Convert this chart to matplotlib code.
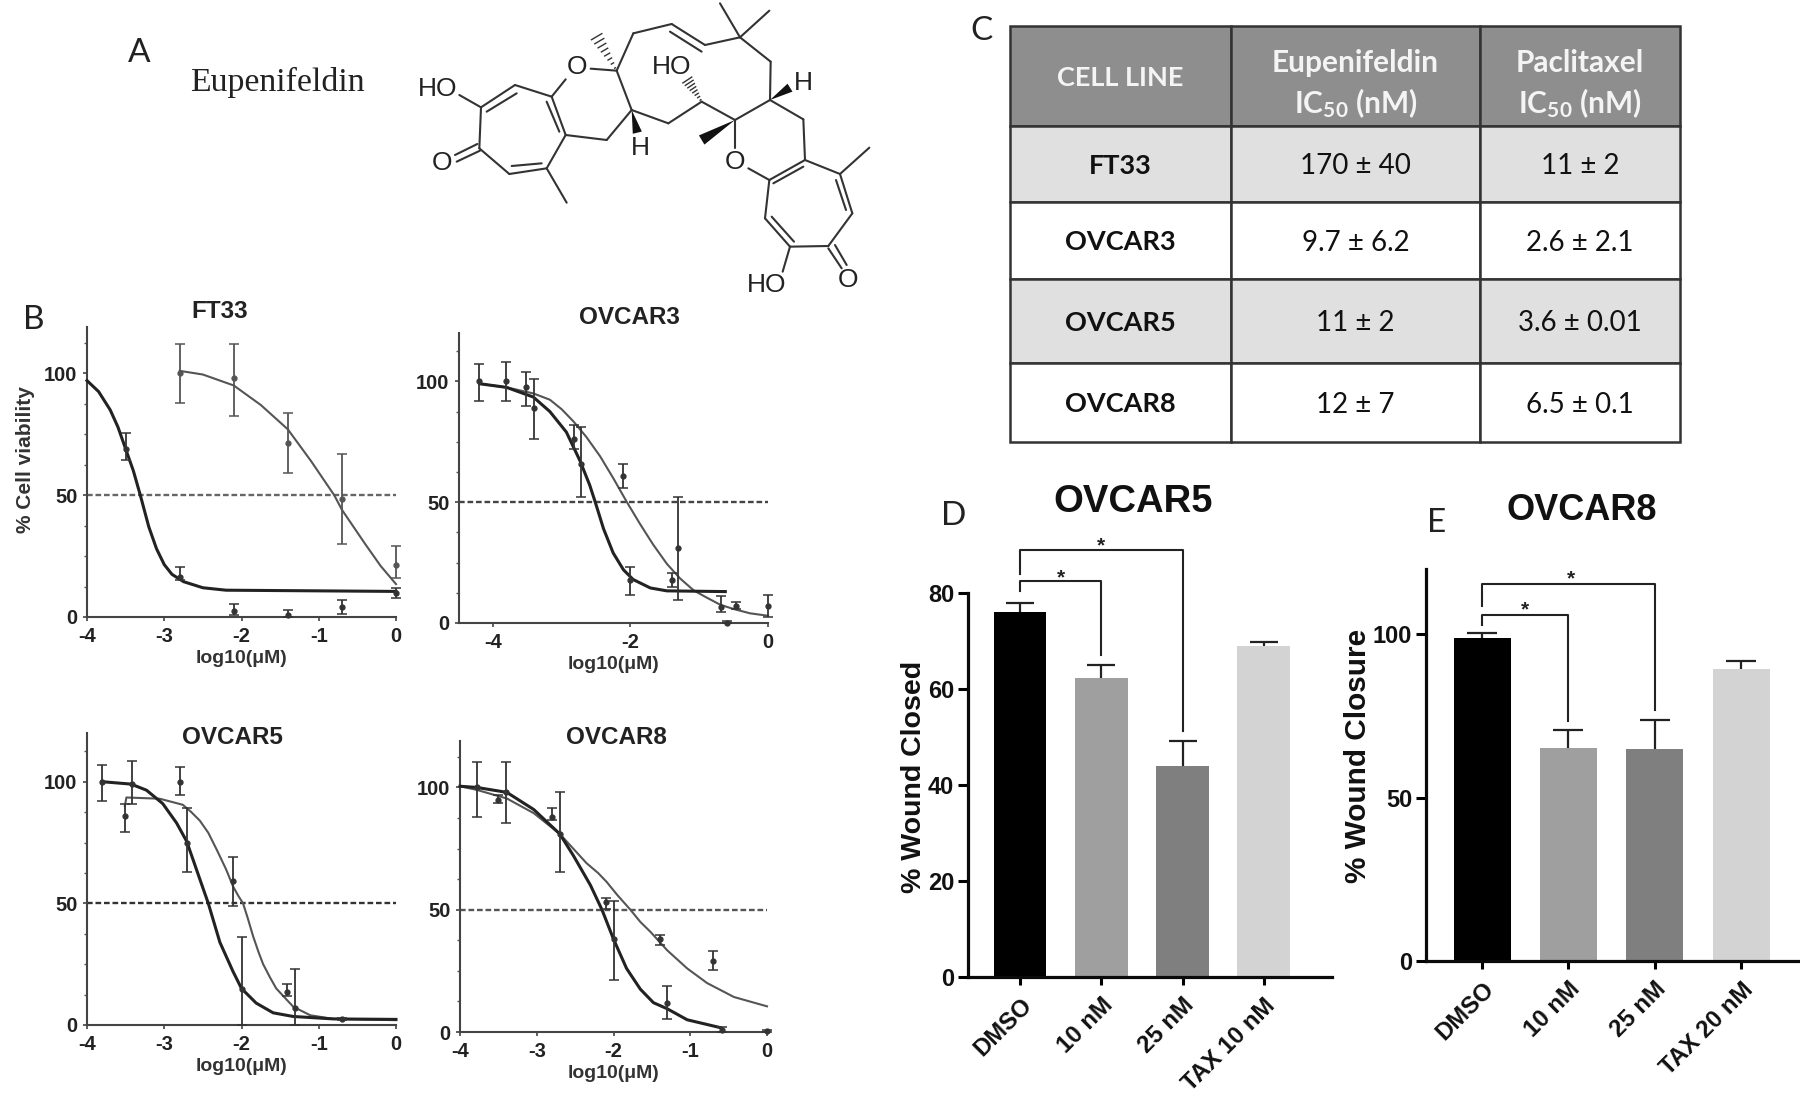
import numpy as np
import matplotlib
matplotlib.use("Agg")
import matplotlib.pyplot as plt
from matplotlib.patches import Polygon

W, H = 1800, 1096
plt.rcParams['font.family'] = ['Liberation Sans', 'DejaVu Sans']
plt.rcParams['mathtext.default'] = 'regular'

# ---------- panel B data ----------
ft33_dark_x = [-4, -3.85, -3.7, -3.6, -3.5, -3.4, -3.31, -3.2, -3.1, -3, -2.9, -2.75, -2.5, -2.2, 0]
ft33_dark_y = [97, 92.5, 85, 78, 69, 60, 50, 37, 28, 21.5, 17.5, 14.5, 12, 11, 10.5]
ft33_light_x = [-2.8, -2.5, -2.1, -1.75, -1.4, -1.1, -0.8, -0.7, -0.4, -0.2, 0]
ft33_light_y = [101, 99.5, 95, 87, 77, 64, 50, 44, 30, 21, 13.5]
ft33_dark_px = [-3.5, -2.79, -2.1, -1.4, -0.7, 0]
ft33_dark_py = [69, 16.5, 2.5, 0.8, 4, 10]
ft33_dark_lo = [64.6, 15, 0.7, 0, 1.4, 8]
ft33_dark_hi = [75.6, 20.6, 5.5, 3, 7, 12]
ft33_light_px = [-2.79, -2.1, -1.4, -0.7, 0]
ft33_light_py = [100, 98, 71.5, 48.5, 21.5]
ft33_light_lo = [88, 82.5, 59, 30, 16]
ft33_light_hi = [112, 112, 83.6, 66.7, 29]

ov3_dark_x = [-4.19, -3.8, -3.41, -3.17, -2.93, -2.73, -2.59, -2.51, -2.39, -2.25, -2.1, -1.96, -1.71, -1.47, -0.62]
ov3_dark_y = [99, 97.5, 93.5, 87.5, 79, 67, 57, 50, 39, 29, 22, 18, 14.5, 13.3, 13]
ov3_light_x = [-4.19, -3.8, -3.41, -3.17, -3.0, -2.83, -2.64, -2.44, -2.25, -2.05, -1.86, -1.67, -1.47, -1.28, -1.08, -0.89, -0.69, -0.5, -0.26, 0]
ov3_light_y = [99, 97.5, 95, 92.4, 88.5, 83.5, 77, 69, 60, 50, 41, 32.5, 24.5, 18.5, 13.5, 10.5, 7.5, 5.8, 4, 3]
ov3_px = [-4.2, -3.81, -3.51, -3.4, -2.82, -2.71, -2.1, -2, -1.4, -1.31, -0.69, -0.6, -0.46, 0]
ov3_py = [100, 100, 97.5, 89, 76, 66, 61, 18, 18, 31, 6.5, 0, 7, 7]
ov3_lo = [92, 92, 90, 76, 72, 52, 56, 11.5, 15, 9.5, 4.5, 0, 6, 2.5]
ov3_hi = [107, 108, 104, 101, 82, 81, 66, 23, 20.5, 52, 11, 1, 8.7, 11.5]

ov5_dark_x = [-3.81, -3.43, -3.23, -3.02, -2.84, -2.71, -2.54, -2.43, -2.28, -2.11, -2, -1.81, -1.59, -1.33, -0.81, 0]
ov5_dark_y = [100, 99, 96.5, 91, 83, 75.5, 60, 50, 34, 22, 15, 9, 5, 3.5, 2.5, 2.3]
ov5_light_x = [-3.51, -3.49, -3.06, -2.76, -2.65, -2.54, -2.43, -2.32, -2.2, -2.11, -2.04, -1.98, -1.92, -1.85, -1.78, -1.72, -1.63, -1.55, -1.33, -1.11, -0.81, 0]
ov5_light_y = [90, 93.5, 93, 90.5, 87.5, 84, 79, 72, 64, 57, 53, 50, 44, 36.5, 30, 25, 19.5, 15, 7.5, 4, 2.5, 2]
ov5_px = [-3.81, -3.42, -2.71, -2, -1.31, -3.51, -2.8, -2.11, -1.41, -0.7]
ov5_py = [100, 99, 75, 15, 7, 86, 100, 59, 13.5, 2.5]
ov5_lo = [92, 91, 63, 0, 0, 79.5, 94.5, 49, 12, 2]
ov5_hi = [107, 108.5, 89, 36, 23, 91, 106, 69, 17, 3]

ov8_dark_x = [-4, -3.78, -3.39, -3.04, -2.7, -2.52, -2.3, -2.15, -2, -1.83, -1.65, -1.48, -1.3, -1.04, -0.61]
ov8_dark_y = [100.5, 100, 98, 91, 81, 72, 60, 50, 38, 26, 17.5, 12, 9.5, 5, 1.8]
ov8_light_x = [-4, -3.78, -3.39, -3.04, -2.7, -2.35, -2.2, -2.09, -1.95, -1.78, -1.65, -1.52, -1.3, -1.04, -0.78, -0.43, 0]
ov8_light_y = [100.5, 99, 95.5, 89.5, 81, 69, 65, 61.4, 56, 50, 45, 41, 33.4, 26, 20, 14.3, 10.5]
ov8_px = [-3.78, -3.4, -2.7, -2, -1.3, -0.59, -3.5, -2.8, -2.1, -1.39, -0.7, 0]
ov8_py = [100, 98, 81, 38, 12, 1, 95, 88, 53, 38, 29, 0.5]
ov8_lo = [88, 85.5, 65.5, 21.4, 5.5, 0, 93.5, 86.6, 50.5, 35.7, 25.5, 0]
ov8_hi = [110.5, 110.5, 98, 53.5, 18.7, 2, 97, 91.5, 55, 39.6, 33, 1]

# ---------- panel C data ----------
table_head = ['CELL LINE', 'Eupenifeldin\nIC$_{50}$ (nM)', 'Paclitaxel\nIC$_{50}$ (nM)']
cell_lines = ['FT33', 'OVCAR3', 'OVCAR5', 'OVCAR8']
eupen_ic50 = ['170 ± 40', '9.7 ± 6.2', '11 ± 2', '12 ± 7']
pacli_ic50 = ['11 ± 2', '2.6 ± 2.1', '3.6 ± 0.01', '6.5 ± 0.1']

# ---------- panels D / E data ----------
bar_colors = ['#000000', '#9f9f9f', '#7f7f7f', '#d3d3d3']
d_labels = ['DMSO', '10 nM', '25 nM', 'TAX 10 nM']
d_values = [76, 62.3, 44, 69]
d_tops = [78, 65, 49.2, 69.8]
e_labels = ['DMSO', '10 nM', '25 nM', 'TAX 20 nM']
e_values = [99, 65.2, 65, 89.5]
e_tops = [100.3, 70.8, 73.7, 91.8]


def px_axes(l, r, t, b):
    return fig.add_axes([l / W, 1 - b / H, (r - l) / W, (b - t) / H])


fig = plt.figure(figsize=(W / 100, H / 100), dpi=100, facecolor='white')

# ---------- full-figure overlay in pixel coordinates ----------
ov = fig.add_axes([0, 0, 1, 1], zorder=0)
ov.set_xlim(0, W)
ov.set_ylim(H, 0)
ov.axis('off')

for s, x, y in [('A', 139, 53), ('B', 34, 320), ('C', 982, 31), ('D', 954, 516), ('E', 1437, 523)]:
    ov.text(x, y, s, family='Lato', fontsize=24, ha='center', va='center', color='#222222')
ov.text(190, 82, 'Eupenifeldin', family='Liberation Serif', fontsize=24.4, ha='left', va='center', color='#222222')

# ---------- molecule, zoomed-crop coordinates ----------
def mx(p):
    return (p[0] / 3 + 400, p[1] / 3)

bonds = [
    ((243, 322), (345, 255)), ((345, 255), (455, 290)), ((455, 290), (497, 405)), ((497, 405), (440, 505)),
    ((440, 505), (328, 522)), ((328, 522), (238, 445)), ((238, 445), (243, 322)),
    ((455, 290), (497, 238)), ((572, 206), (650, 212)), ((650, 212), (695, 330)), ((695, 330), (620, 420)),
    ((620, 420), (497, 405)), ((650, 212), (700, 100)), ((700, 100), (815, 72)), ((815, 72), (915, 135)),
    ((915, 135), (1020, 112)), ((1020, 112), (960, 10)), ((1020, 112), (1108, 32)), ((1020, 112), (1112, 185)),
    ((1112, 185), (1110, 300)), ((1110, 300), (1005, 360)), ((1110, 300), (1210, 358)), ((1210, 358), (1215, 480)),
    ((1215, 480), (1320, 522)), ((1320, 522), (1408, 443)), ((1320, 522), (1357, 640)), ((1357, 640), (1285, 738)),
    ((1285, 738), (1170, 740)), ((1170, 740), (1095, 655)), ((1095, 655), (1108, 540)), ((1108, 540), (1215, 480)),
    ((1108, 540), (1045, 505)), ((1005, 445), (1005, 360)), ((1170, 740), (1148, 815)), ((1005, 360), (905, 305)),
    ((905, 305), (805, 370)), ((805, 370), (695, 330)), ((243, 322), (178, 285)), ((440, 505), (500, 608)),
    # inner lines of double bonds
    ((260, 335), (350, 280)), ((440, 305), (478, 395)), ((335, 498), (425, 490)), ((810, 95), (905, 155)),
    ((1308, 540), (1338, 630)), ((1115, 650), (1182, 725)), ((1120, 550), (1210, 500)),
    ((165, 465), (232, 432)), ((170, 485), (240, 452)), ((1285, 745), (1325, 805)), ((1305, 735), (1340, 795)),
]
for a, b in bonds:
    pa, pb = mx(a), mx(b)
    ov.plot([pa[0], pb[0]], [pa[1], pb[1]], color='#333333', lw=1.5, solid_capstyle='round')

for a, b, hw in [((695, 330), (712, 398), 14), ((1110, 300), (1170, 263), 14), ((1005, 360), (905, 420), 16)]:
    pa, pb = np.array(mx(a)), np.array(mx(b))
    d = pb - pa
    n = np.array([-d[1], d[0]]) / np.hypot(*d) * hw / 3
    ov.add_patch(Polygon([pa, pb + n, pb - n], closed=True, color='#111111', lw=0))

for a, b, hw in [((650, 212), (590, 110), 18), ((905, 305), (862, 240), 16)]:
    pa, pb = np.array(mx(a)), np.array(mx(b))
    d = pb - pa
    n = np.array([-d[1], d[0]]) / np.hypot(*d)
    for f in np.linspace(0.08, 1, 8):
        c = pa + d * f
        e = n * hw / 3 * f
        ov.plot([c[0] - e[0], c[0] + e[0]], [c[1] - e[1], c[1] + e[1]], color='#333333', lw=1.0)

for s, a in [('HO', (112, 268)), ('O', (530, 200)), ('O', (125, 488)), ('H', (722, 445)), ('HO', (815, 200)),
             ('H', (1210, 248)), ('O', (1005, 485)), ('HO', (1100, 855)), ('O', (1345, 840))]:
    p = mx(a)
    ov.text(p[0], p[1], s, fontsize=19, ha='center', va='center', color='#222222')

# ---------- panel C table ----------
tax = px_axes(1010, 1680, 26, 442)
tax.axis('off')
rows = [table_head] + [[c, e, p] for c, e, p in zip(cell_lines, eupen_ic50, pacli_ic50)]
tbl = tax.table(cellText=rows, cellLoc='center', bbox=[0, 0, 1, 1], colWidths=[221 / 670, 249 / 670, 200 / 670])
tbl.auto_set_font_size(False)
row_h = [100 / 416, 76 / 416, 77 / 416, 84 / 416, 79 / 416]
fills = ['#8e8e8e', '#e0e0e0', '#ffffff', '#e0e0e0', '#ffffff']
for (r, c), cell in tbl.get_celld().items():
    cell.set_height(row_h[r])
    cell.set_facecolor(fills[r])
    cell.set_edgecolor('#333333')
    cell.set_linewidth(1.8)
    t = cell.get_text()
    t.set_family('Lato')
    t.set_verticalalignment('center_baseline')
    if r == 0:
        t.set_fontsize(19.5 if c == 0 else 21.5)
        t.set_color('#f4f4f4')
        t.set_fontweight('bold')
        t.set_linespacing(1.35)
    elif c == 0:
        t.set_fontsize(19.5)
        t.set_color('#111111')
        t.set_fontweight('bold')
    else:
        t.set_fontsize(20)
        t.set_color('#111111')


# ---------- panel B ----------
def dose_panel(box, xlim, ymax, xticks, title, tpos, series, points, dash_col):
    ax = px_axes(*box)
    ax.set_xlim(*xlim)
    ax.set_ylim(0, ymax)
    ax.patch.set_alpha(0)
    for s in ['top', 'right']:
        ax.spines[s].set_visible(False)
    for s in ['left', 'bottom']:
        ax.spines[s].set_color('#444444')
        ax.spines[s].set_linewidth(1.5)
    ax.set_xticks(xticks)
    ax.set_yticks([0, 50, 100])
    ax.set_yticks([12.5, 25, 37.5, 62.5, 75, 87.5, 112.5], minor=True)
    ax.tick_params(axis='both', which='major', length=3, width=1.2, color='#444444', pad=4, labelsize=14.5, labelcolor='#222222')
    ax.tick_params(axis='y', which='minor', length=2, width=1, color='#555555')
    for lb in ax.get_xticklabels() + ax.get_yticklabels():
        lb.set_fontweight('bold')
    ax.set_xticklabels([('-%d' % abs(v)) if v else '0' for v in xticks])
    ax.set_xlabel('log10(μM)', fontsize=14, fontweight='bold', color='#333333', labelpad=3)
    ax.axhline(50, color=dash_col, lw=1.7, ls=(0, (2.4, 1.2)), zorder=1)
    for x, y, col, lw in series:
        ax.plot(x, y, color=col, lw=lw, clip_on=False, zorder=3)
    for px, py, lo, hi, col in points:
        px, py, lo, hi = map(np.asarray, (px, py, lo, hi))
        ax.errorbar(px, py, yerr=[py - lo, hi - py], fmt='o', ms=3.5, color=col, ecolor=col,
                    elinewidth=1.3, capsize=3.5, capthick=1.1, clip_on=False, zorder=4)
    ov.text(tpos[0], tpos[1], title, fontsize=17.5, fontweight='bold', ha='center', va='center', color='#222222')
    return ax


dose_panel((87, 396, 327, 617), (-4, 0), 119, [-4, -3, -2, -1, 0], 'FT33', (220, 312),
           [(ft33_light_x, ft33_light_y, '#555555', 1.5), (ft33_dark_x, ft33_dark_y, '#222222', 2.2)],
           [(ft33_light_px, ft33_light_py, ft33_light_lo, ft33_light_hi, '#555555'),
            (ft33_dark_px, ft33_dark_py, ft33_dark_lo, ft33_dark_hi, '#333333')], '#666666')
dose_panel((459, 768, 333, 623), (-4.49, 0), 120, [-4, -2, 0], 'OVCAR3', (629, 318),
           [(ov3_light_x, ov3_light_y, '#555555', 1.5), (ov3_dark_x, ov3_dark_y, '#222222', 2.2)],
           [(ov3_px, ov3_py, ov3_lo, ov3_hi, '#333333')], '#444444')
dose_panel((87, 396, 733, 1025), (-4, 0), 120, [-4, -3, -2, -1, 0], 'OVCAR5', (232, 737),
           [(ov5_light_x, ov5_light_y, '#555555', 1.5), (ov5_dark_x, ov5_dark_y, '#222222', 2.2)],
           [(ov5_px, ov5_py, ov5_lo, ov5_hi, '#333333')], '#333333')
dose_panel((460, 767, 741, 1032), (-4, 0), 119, [-4, -3, -2, -1, 0], 'OVCAR8', (616, 737),
           [(ov8_light_x, ov8_light_y, '#555555', 1.5), (ov8_dark_x, ov8_dark_y, '#222222', 2.2)],
           [(ov8_px, ov8_py, ov8_lo, ov8_hi, '#333333')], '#555555')
ov.text(26, 460, '% Cell viability', rotation=90, fontsize=15, fontweight='bold', ha='center', va='center', color='#333333')


# ---------- panels D / E ----------
def bar_panel(box, xlim, ylim, yticks, labels, values, tops, ylabel, ylab_pos, ylab_size, title, tpos, tsize, width, cap, brackets):
    ax = px_axes(*box)
    ax.set_xlim(*xlim)
    ax.set_ylim(*ylim)
    ax.patch.set_alpha(0)
    x = np.arange(len(values))
    ax.bar(x, values, width=width, color=bar_colors, lw=0)
    ax.vlines(x, values, tops, color='#222222', lw=1.6, zorder=3)
    ax.plot(x, tops, ls='none', marker='_', ms=cap, mew=1.6, color='#222222', zorder=3)
    for s in ['top', 'right']:
        ax.spines[s].set_visible(False)
    for s in ['left', 'bottom']:
        ax.spines[s].set_linewidth(2.3)
        ax.spines[s].set_color('#0a0a0a')
    ax.set_yticks(yticks)
    ax.set_xticks(x)
    ax.set_xticklabels(labels, rotation=45, ha='right', rotation_mode='anchor', fontweight='bold', fontsize=17.2, color='#111111')
    for lb in ax.get_yticklabels():
        lb.set_fontweight('bold')
    ax.tick_params(axis='y', length=7, width=2.2, pad=3, labelsize=17, labelcolor='#111111')
    ax.tick_params(axis='x', length=6, width=2.2, pad=6)
    for xs, ys, sx, sy in brackets:
        ax.plot(xs, ys, color='#222222', lw=1.5, clip_on=False, zorder=4)
        ax.text(sx, sy, '*', fontsize=15, fontweight='bold', ha='center', va='center', color='#222222', clip_on=False)
    ov.text(ylab_pos[0], ylab_pos[1], ylabel, rotation=90, fontsize=ylab_size, fontweight='bold', ha='center', va='center', color='#111111')
    ov.text(tpos[0], tpos[1], title, fontsize=tsize, fontweight='bold', ha='center', va='center', color='#111111')
    return ax


d_brackets = [([0, 0, 1, 1], [80.5, 82.4, 82.4, 67], 0.5, 83.2),
              ([0, 0, 2, 2], [84, 89, 89, 51.3], 1.0, 89.8)]
e_brackets = [([0, 0, 1, 1], [103, 106, 106, 73.6], 0.5, 107.5),
              ([0, 0, 2, 2], [108.6, 115.5, 115.5, 76.7], 1.03, 117)]
bar_panel((968, 1332, 593, 977), (-0.64, 3.84), (0, 80), [0, 20, 40, 60, 80], d_labels, d_values, d_tops,
          '% Wound Closed', (914, 777), 20.5, 'OVCAR5', (1133, 502), 27.5, 0.65, 20, d_brackets)
bar_panel((1426, 1798, 569, 961), (-0.65, 3.66), (0, 120), [0, 50, 100], e_labels, e_values, e_tops,
          '% Wound Closure', (1358, 756), 21.4, 'OVCAR8', (1582, 510), 26, 0.66, 22, e_brackets)

fig.savefig('out.png', dpi=100, facecolor='white')
